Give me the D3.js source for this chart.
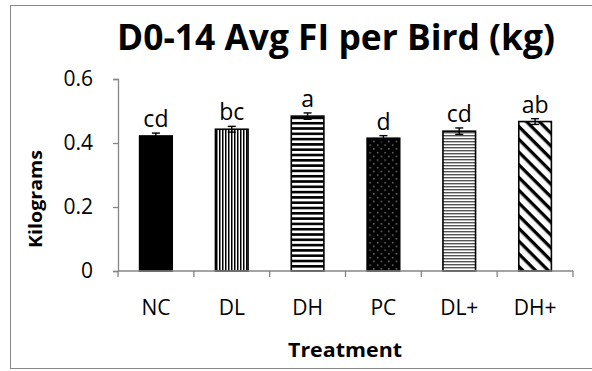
<!DOCTYPE html>
<html>
<head>
<meta charset="utf-8">
<script src="https://cdn.jsdelivr.net/npm/d3@7"></script>
<style>
  body { margin: 0; background: #fff; }
  text { font-family: "Open Sans", "DejaVu Sans", sans-serif; fill: #000; }
</style>
</head>
<body>
<div id="chart"></div>
<script>
const categories = ["NC", "DL", "DH", "PC", "DL+", "DH+"];
const values = [0.422, 0.443, 0.484, 0.415, 0.437, 0.467];
const errors = [0.009, 0.009, 0.010, 0.008, 0.010, 0.009];
const letters = ["cd", "bc", "a", "d", "cd", "ab"];
const yTicks = [0, 0.2, 0.4, 0.6];
const patterns = ["solid", "vert", "hthick", "dots", "hthin", "diag"];

const width = 592, height = 371;
const margin = { left: 118, right: 19, top: 79, bottom: 100 };

const svg = d3.select("#chart").append("svg")
    .attr("width", width)
    .attr("height", height);

const defs = svg.append("defs");

// bar fill patterns
const pVert = defs.append("pattern").attr("id", "vert")
    .attr("patternUnits", "userSpaceOnUse").attr("width", 3).attr("height", 10);
pVert.append("rect").attr("width", 3).attr("height", 10).attr("fill", "#fff");
pVert.append("rect").attr("width", 1.5).attr("height", 10).attr("fill", "#000");

const pHThick = defs.append("pattern").attr("id", "hthick")
    .attr("patternUnits", "userSpaceOnUse").attr("width", 10).attr("height", 5.3);
pHThick.append("rect").attr("width", 10).attr("height", 5.3).attr("fill", "#fff");
pHThick.append("rect").attr("width", 10).attr("height", 2.6).attr("fill", "#000");

const pHThin = defs.append("pattern").attr("id", "hthin")
    .attr("patternUnits", "userSpaceOnUse").attr("width", 10).attr("height", 3);
pHThin.append("rect").attr("width", 10).attr("height", 3).attr("fill", "#fff");
pHThin.append("rect").attr("width", 10).attr("height", 1.4).attr("fill", "#555");

const pDots = defs.append("pattern").attr("id", "dots")
    .attr("patternUnits", "userSpaceOnUse").attr("width", 7.5).attr("height", 7.5);
pDots.append("rect").attr("width", 7.5).attr("height", 7.5).attr("fill", "#000");
pDots.append("rect").attr("x", 2).attr("y", 2).attr("width", 1.3).attr("height", 1.3).attr("fill", "#999");
pDots.append("rect").attr("x", 5.75).attr("y", 5.75).attr("width", 1.3).attr("height", 1.3).attr("fill", "#999");

const pDiag = defs.append("pattern").attr("id", "diag")
    .attr("patternUnits", "userSpaceOnUse").attr("width", 9).attr("height", 9)
    .attr("patternTransform", "rotate(45)");
pDiag.append("rect").attr("width", 9).attr("height", 9).attr("fill", "#fff");
pDiag.append("rect").attr("width", 9).attr("height", 3.3).attr("fill", "#000");

// outer frame
svg.append("rect")
    .attr("x", 10.5).attr("y", 5.5)
    .attr("width", 590).attr("height", 363)
    .attr("fill", "none").attr("stroke", "#888").attr("stroke-width", 1);

const x = d3.scaleBand()
    .domain(categories)
    .range([margin.left, width - margin.right])
    .paddingInner(0.57)
    .paddingOuter(0.285);

const y = d3.scaleLinear()
    .domain([0, 0.6])
    .range([height - margin.bottom, margin.top]);

// axes
const yAxis = svg.append("g")
    .attr("transform", `translate(${margin.left},0)`)
    .call(d3.axisLeft(y).tickValues(yTicks).tickFormat(d => d === 0 ? "0" : d3.format(".1f")(d)).tickSize(5).tickPadding(20));
yAxis.select(".domain").attr("stroke", "#868686").attr("stroke-width", 1.3);
yAxis.selectAll(".tick line").attr("stroke", "#868686").attr("stroke-width", 1.3);
yAxis.selectAll(".tick text").attr("font-size", 21).attr("fill", "#000")
    .attr("font-family", "Open Sans");

const step = x.step();
const bounds = d3.range(categories.length + 1).map(i => x.range()[0] + i * step);
const xg = svg.append("g");
xg.selectAll("line.tk").data(bounds).enter().append("line")
    .attr("x1", d => d).attr("x2", d => d)
    .attr("y1", y(0)).attr("y2", y(0) + 6)
    .attr("stroke", "#868686").attr("stroke-width", 1.3);
xg.selectAll("text").data(categories).enter().append("text")
    .attr("x", d => x(d) + x.bandwidth() / 2)
    .attr("y", y(0) + 44)
    .attr("text-anchor", "middle")
    .attr("font-size", 21)
    .text(d => d);

// bars
const bars = svg.append("g");
bars.selectAll("rect").data(categories).enter().append("rect")
    .attr("x", d => x(d))
    .attr("y", (d, i) => y(values[i]))
    .attr("width", x.bandwidth())
    .attr("height", (d, i) => y(0) - y(values[i]))
    .attr("fill", (d, i) => patterns[i] === "solid" ? "#000" : `url(#${patterns[i]})`)
    .attr("stroke", "#000")
    .attr("stroke-width", 1.6);

// x axis line over bar bottoms
svg.append("line")
    .attr("x1", margin.left).attr("x2", width - margin.right)
    .attr("y1", y(0)).attr("y2", y(0))
    .attr("stroke", "#868686").attr("stroke-width", 1.3);

// error bars
const eb = svg.append("g").attr("stroke", "#000").attr("stroke-width", 1.4);
categories.forEach((c, i) => {
    const cx = x(c) + x.bandwidth() / 2;
    eb.append("line").attr("x1", cx).attr("x2", cx)
        .attr("y1", y(values[i] - errors[i])).attr("y2", y(values[i] + errors[i]));
    [values[i] - errors[i], values[i] + errors[i]].forEach(v => {
        eb.append("line").attr("x1", cx - 4).attr("x2", cx + 4)
            .attr("y1", y(v)).attr("y2", y(v));
    });
});

// significance letters
svg.append("g").selectAll("text").data(categories).enter().append("text")
    .attr("x", d => x(d) + x.bandwidth() / 2)
    .attr("y", (d, i) => y(values[i] + errors[i]) - 6)
    .attr("text-anchor", "middle")
    .attr("font-size", 23)
    .text((d, i) => letters[i]);

// title
svg.append("text")
    .attr("x", 336).attr("y", 50)
    .attr("text-anchor", "middle")
    .attr("font-size", 35)
    .attr("font-weight", "bold")
    .attr("textLength", 438)
    .attr("lengthAdjust", "spacingAndGlyphs")
    .text("D0-14 Avg FI per Bird (kg)");

// axis titles
svg.append("text")
    .attr("x", 345).attr("y", 357)
    .attr("text-anchor", "middle")
    .attr("font-size", 19)
    .attr("font-weight", "bold")
    .attr("textLength", 114)
    .attr("lengthAdjust", "spacingAndGlyphs")
    .text("Treatment");

svg.append("text")
    .attr("transform", "translate(42,199) rotate(-90)")
    .attr("text-anchor", "middle")
    .attr("font-size", 17)
    .attr("font-weight", "bold")
    .attr("textLength", 98)
    .attr("lengthAdjust", "spacingAndGlyphs")
    .text("Kilograms");
</script>
</body>
</html>
